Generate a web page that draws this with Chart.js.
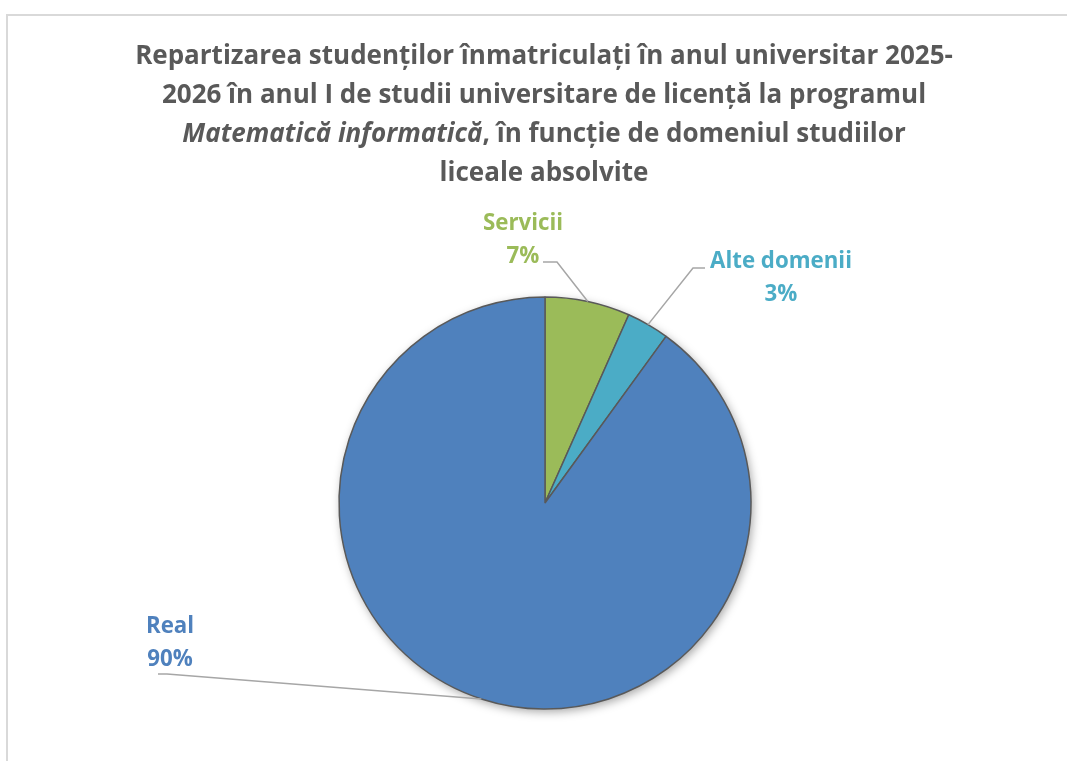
<!DOCTYPE html>
<html><head><meta charset="utf-8">
<script src="https://cdn.jsdelivr.net/npm/chart.js@4.4.1/dist/chart.umd.min.js"></script>
<style>
html,body{margin:0;padding:0;background:#fff;overflow:hidden;}
#wrap{position:relative;width:1067px;height:761px;overflow:hidden;}
#frame{position:absolute;left:6px;top:14px;width:1100px;height:800px;border:2px solid #d9d9d9;box-sizing:border-box;}
canvas{position:absolute;left:0;top:0;}
</style></head><body>
<div id="wrap"><div id="frame"></div><canvas id="c" width="1067" height="761"></canvas></div>
<script>
// ---- data ----
const categories = ['Servicii', 'Alte domenii', 'Real'];
const values = [2, 1, 27];
const sliceColors = ['#9BBB59', '#4BACC6', '#4F81BD'];
const titleLines = [
  [{ t: 'Repartizarea studenților înmatriculați în anul universitar 2025-' }],
  [{ t: '2026 în anul I de studii universitare de licență la programul' }],
  [{ t: 'Matematică informatică', italic: true }, { t: ', în funcție de domeniul studiilor' }],
  [{ t: 'liceale absolvite' }]
];

// ---- style / layout ----
const FONT = '"Open Sans", sans-serif';
const TITLE_WIDTH = 818;   // target width of first title line
const LABEL_WIDTH = 142;   // target width of "Alte domenii"
const titleStyle = { color: '#595959', cx: 544, baselines: [64, 103, 142, 181] };
// label positions relative to pie centre (px)
const labelLayout = [
  { tx: -22, ty: -273, sx: -2, sy: -241, ex: 12, ey: -241 },
  { tx: 236, ty: -235, sx: 160, sy: -235, ex: 148, ey: -235 },
  { tx: -375, ty: 130, sx: -387, sy: 171, ex: -378, ey: 171 }
];
const LABEL_GAP = 33;

const total = values.reduce((a, b) => a + b, 0);

function fitSize(ctx, text, target) {
  ctx.font = 'bold 20px ' + FONT;
  return 20 * target / ctx.measureText(text).width;
}

const titlePlugin = {
  id: 'richTitle',
  afterDraw(chart) {
    const ctx = chart.ctx;
    ctx.save();
    const size = fitSize(ctx, titleLines[0][0].t, TITLE_WIDTH);
    ctx.fillStyle = titleStyle.color;
    ctx.textBaseline = 'alphabetic';
    ctx.textAlign = 'left';
    titleLines.forEach((segs, i) => {
      let w = 0;
      segs.forEach(s => { ctx.font = (s.italic ? 'italic ' : '') + 'bold ' + size + 'px ' + FONT; s.w = ctx.measureText(s.t).width; w += s.w; });
      let x = titleStyle.cx - w / 2;
      segs.forEach(s => { ctx.font = (s.italic ? 'italic ' : '') + 'bold ' + size + 'px ' + FONT; ctx.fillText(s.t, x, titleStyle.baselines[i]); x += s.w; });
    });
    ctx.restore();
  }
};

const shadowPlugin = {
  id: 'pieShadow',
  beforeDatasetsDraw(chart) {
    const arc = chart.getDatasetMeta(0).data[0];
    if (!arc) return;
    const ctx = chart.ctx;
    ctx.save();
    ctx.shadowColor = 'rgba(0,0,0,0.35)';
    ctx.shadowBlur = 10;
    ctx.shadowOffsetX = 2;
    ctx.shadowOffsetY = 3;
    ctx.fillStyle = '#ffffff';
    ctx.beginPath();
    ctx.arc(arc.x, arc.y, arc.outerRadius, 0, Math.PI * 2);
    ctx.fill();
    ctx.restore();
  }
};

const labelPlugin = {
  id: 'outLabels',
  afterDatasetsDraw(chart) {
    const ctx = chart.ctx;
    const meta = chart.getDatasetMeta(0);
    const size = fitSize(ctx, categories[1], LABEL_WIDTH);
    meta.data.forEach((arc, i) => {
      const p = arc.getProps(['x', 'y', 'startAngle', 'endAngle', 'outerRadius'], true);
      const mid = (p.startAngle + p.endAngle) / 2;
      const ax = p.x + Math.cos(mid) * p.outerRadius;
      const ay = p.y + Math.sin(mid) * p.outerRadius;
      const L = labelLayout[i];
      ctx.save();
      ctx.strokeStyle = '#A6A6A6';
      ctx.lineWidth = 1.5;
      ctx.beginPath();
      ctx.moveTo(p.x + L.sx, p.y + L.sy);
      ctx.lineTo(p.x + L.ex, p.y + L.ey);
      ctx.lineTo(ax, ay);
      ctx.stroke();
      ctx.fillStyle = sliceColors[i];
      ctx.font = 'bold ' + size + 'px ' + FONT;
      ctx.textAlign = 'center';
      ctx.textBaseline = 'alphabetic';
      const pct = Math.round(values[i] / total * 100) + '%';
      ctx.fillText(categories[i], p.x + L.tx, p.y + L.ty);
      ctx.fillText(pct, p.x + L.tx, p.y + L.ty + LABEL_GAP);
      ctx.restore();
    });
  }
};

new Chart(document.getElementById('c'), {
  type: 'pie',
  data: {
    labels: categories,
    datasets: [{
      data: values,
      backgroundColor: sliceColors,
      borderColor: '#595959',
      borderWidth: 1.5,
      hoverOffset: 0
    }]
  },
  options: {
    responsive: false,
    animation: false,
    radius: 206,
    layout: { padding: { left: 23, right: 0, top: 245, bottom: 0 } },
    plugins: { legend: { display: false }, title: { display: false }, tooltip: { enabled: false } }
  },
  plugins: [shadowPlugin, labelPlugin, titlePlugin]
});
</script>
</body></html>
